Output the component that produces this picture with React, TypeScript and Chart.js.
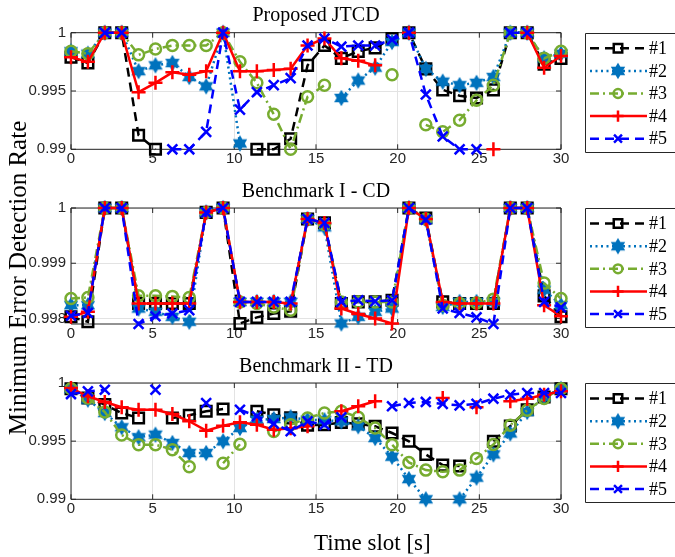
import React, { useEffect, useRef } from 'react';
import { Chart, registerables } from 'chart.js';
import { drawPoint } from 'chart.js/helpers';

Chart.register(...registerables);

// ---------- data ----------
const TIME_SLOTS = [0, 1.0345, 2.069, 3.1034, 4.1379, 5.1724, 6.2069, 7.2414, 8.2759, 9.3103, 10.3448, 11.3793, 12.4138, 13.4483, 14.4828, 15.5172, 16.5517, 17.5862, 18.6207, 19.6552, 20.6897, 21.7241, 22.7586, 23.7931, 24.8276, 25.8621, 26.8966, 27.931, 28.9655, 30];
const SERIES_LABELS = ['#1', '#2', '#3', '#4', '#5'];
const X_TICKS = [0, 5, 10, 15, 20, 25, 30];

const PANEL_TITLES = ['Proposed JTCD', 'Benchmark I - CD', 'Benchmark II - TD'];
const Y_TICKS_JTCD = [0.99, 0.995, 1];
const Y_TICKS_CD = [0.998, 0.999, 1];
const Y_TICKS_TD = [0.99, 0.995, 1];
const Y_RANGE_JTCD = [0.99, 1];
const Y_RANGE_CD = [0.9979, 1];
const Y_RANGE_TD = [0.99, 1];

// Proposed JTCD
const JTCD_1 = [0.9979, 0.9974, 1, 1, 0.9912, 0.99, null, null, null, null, null, 0.99, 0.99, 0.9909, 0.9972, 0.9989, 0.9978, 0.9984, 0.9987, 0.9995, 1, 0.9969, 0.9951, 0.9946, 0.9944, 0.9951, 1, 1, 0.9973, 0.9978];
const JTCD_2 = [0.9984, 0.9982, 1, 1, 0.9967, 0.9972, 0.9974, 0.9962, 0.9954, 1, 0.9905, null, null, null, null, null, 0.9944, 0.9959, 0.9970, 0.9992, 1, 0.9969, 0.9958, 0.9955, 0.9957, 0.9962, 1, 1, 0.9978, 0.9982];
const JTCD_3 = [0.9984, 0.9982, 1, 1, 0.9981, 0.9986, 0.9989, 0.9989, 0.9989, 1, 0.9975, 0.9957, 0.9930, 0.99, 0.9945, 0.9955, null, null, null, 0.9964, null, 0.9921, 0.9915, 0.9925, 0.9942, 0.9955, 1, 1, 0.9978, 0.9984];
const JTCD_4 = [0.9979, 0.9975, 1, 1, 0.9949, 0.9957, 0.9966, 0.9964, 0.9967, 1, 0.9967, 0.9967, 0.9968, 0.9969, 0.9989, 0.9995, 0.9978, 0.9976, 0.9972, null, 1, null, null, null, null, 0.99, null, 1, 0.9970, 0.9980];
const JTCD_5 = [null, null, 1, 1, null, null, 0.99, 0.99, 0.9915, 1, 0.9934, 0.9949, 0.9955, 0.9961, 0.9989, 0.9995, 0.9988, 0.9989, 0.9989, 0.9994, 1, 0.9947, 0.9911, 0.99, 0.99, null, 1, 1, null, null];

// Benchmark I - CD
const CD_1 = [0.99803, 0.99794, 1, 1, 0.99827, 0.99827, 0.99827, 0.99827, 0.99992, 1, 0.99791, 0.99802, 0.99809, 0.99813, 0.9998, 0.99973, 0.99827, 0.9983, 0.9983, 0.99833, 1, 0.99982, 0.9983, 0.99827, 0.99827, 0.99827, 1, 1, 0.99841, 0.99803];
const CD_2 = [0.99824, 0.99824, 1, 1, 0.99818, 0.99812, 0.99803, 0.99794, 0.99992, 1, 0.9983, 0.9983, 0.9983, 0.9983, 0.9998, 0.99965, 0.99791, 0.99803, 0.99812, 0.99818, 1, 0.99979, 0.99821, 0.9983, 0.9983, 0.9983, 1, 1, 0.99852, 0.99824];
const CD_3 = [0.99836, 0.99838, 1, 1, 0.99841, 0.99841, 0.9984, 0.99838, 0.99992, 1, 0.9983, 0.99827, 0.99821, 0.99815, 0.9998, 0.9997, 0.9983, 0.9983, 0.9983, 0.9983, 1, 0.9998, 0.99824, 0.99827, 0.99828, 0.99835, 1, 1, 0.99864, 0.99836];
const CD_4 = [0.99803, 0.99812, 1, 1, 0.99827, 0.99827, 0.99827, 0.99827, 0.99992, 1, 0.9983, 0.9983, 0.9983, 0.99827, 0.9998, 0.99973, 0.99818, 0.99808, 0.998, 0.99791, 1, 0.9998, 0.9983, 0.99827, 0.99827, 0.99827, 1, 1, 0.99824, 0.99804];
const CD_5 = [0.99805, 0.9981, 1, 1, 0.9979, 0.99804, 0.99809, 0.99815, 0.99992, 1, 0.9983, 0.9983, 0.9983, 0.9983, 0.9998, 0.99973, 0.9983, 0.99833, 0.99831, 0.99833, 1, 0.99979, 0.99818, 0.9981, 0.99802, 0.9979, 1, 1, 0.9983, 0.9982];

// Benchmark II - TD
const TD_1 = [0.9995, 0.99871, 0.99814, 0.99742, 0.99699, null, 0.99699, 0.99722, 0.99757, 0.99776, null, 0.99757, 0.99727, 0.9970, 0.99637, 0.99641, 0.9966, 0.9965, 0.99628, 0.9957, 0.99499, 0.99386, 0.99294, 0.99286, null, 0.99499, 0.9963, 0.9977, 0.9988, 0.9995];
const TD_2 = [0.9995, 0.99857, 0.99742, 0.99619, 0.99533, 0.99556, 0.99484, 0.99398, 0.99398, 0.99499, 0.99613, 0.99684, 0.9969, 0.99705, 0.99684, 0.9968, 0.9967, 0.99628, 0.99527, 0.99366, 0.99174, 0.99, null, 0.99, 0.99186, 0.99386, 0.99566, 0.99751, 0.9988, 0.9995];
const TD_3 = [0.9995, 0.99871, 0.9975, 0.99553, 0.9947, 0.9947, 0.99427, 0.9928, null, 0.9931, 0.99473, null, 0.99583, 0.99641, 0.99699, 0.99742, 0.99757, 0.99705, 0.99613, 0.9947, 0.99317, 0.99251, 0.99237, 0.99251, 0.99351, 0.99471, 0.99637, 0.99766, 0.99866, 0.9995];
const TD_4 = [0.99957, 0.99886, 0.99837, 0.99791, 0.9977, 0.9977, 0.99733, 0.99671, 0.9959, 0.99633, 0.99662, 0.99641, 0.99598, 0.9961, 0.99628, null, 0.99757, 0.998, 0.99843, null, null, null, 0.99871, null, 0.99791, null, 0.99843, 0.99865, 0.99899, 0.99928];
const TD_5 = [0.99905, 0.99928, 0.99942, null, null, 0.99942, null, null, 0.99828, null, 0.9977, 0.99714, 0.9965, 0.99585, 0.9967, 0.99641, 0.99705, null, null, 0.998, 0.99828, 0.99837, 0.9982, 0.99808, 0.9982, 0.99865, 0.99899, 0.99914, 0.99914, 0.99914];

// ---------- layout / style ----------
const W = 675;
const H = 557;
const PLOT_LEFT = 71;
const PLOT_RIGHT = 561;
const PANEL_BOUNDS = [
  { top: 32.7, bottom: 149.3 },
  { top: 208, bottom: 324 },
  { top: 383, bottom: 499.3 },
];
const AXIS_COLOR = '#262626';
const GRID_COLOR = '#e3e3e3';
const TICK_FONT = { family: '"Liberation Sans", Arial, sans-serif', size: 15 };
const SERIF = '"Liberation Serif", "Times New Roman", serif';
const TITLE_SIZE = 20;

function makeHexagram(color: string) {
  const c = document.createElement('canvas');
  c.width = 18;
  c.height = 18;
  const g = c.getContext('2d')!;
  const R = 8.3;
  const r = R / Math.sqrt(3);
  g.beginPath();
  for (let k = 0; k < 12; k++) {
    const a = -Math.PI / 2 + (k * Math.PI) / 6;
    const rr = k % 2 === 0 ? R : r;
    const px = 9 + rr * Math.cos(a);
    const py = 9 + rr * Math.sin(a);
    if (k === 0) g.moveTo(px, py);
    else g.lineTo(px, py);
  }
  g.closePath();
  g.fillStyle = color;
  g.fill();
  return c;
}

const framePlugin = {
  id: 'matlabFrame',
  beforeDatasetsDraw(chart: any) {
    const { ctx, chartArea, scales } = chart;
    const { left, right, top, bottom } = chartArea;
    ctx.save();
    ctx.strokeStyle = AXIS_COLOR;
    ctx.lineWidth = 1;
    ctx.setLineDash([]);
    ctx.beginPath();
    ctx.rect(left, top, right - left, bottom - top);
    ctx.stroke();
    const tl = 5;
    ctx.beginPath();
    scales.x.ticks.forEach((t: any) => {
      const px = scales.x.getPixelForValue(t.value);
      ctx.moveTo(px, bottom);
      ctx.lineTo(px, bottom - tl);
      ctx.moveTo(px, top);
      ctx.lineTo(px, top + tl);
    });
    scales.y.ticks.forEach((t: any) => {
      const py = scales.y.getPixelForValue(t.value);
      ctx.moveTo(left, py);
      ctx.lineTo(left + tl, py);
      ctx.moveTo(right, py);
      ctx.lineTo(right - tl, py);
    });
    ctx.stroke();
    ctx.restore();
  },
};

const boxLegendPlugin = {
  id: 'boxLegend',
  afterDraw(chart: any) {
    const { ctx, chartArea } = chart;
    const top = chartArea.top;
    ctx.save();
    ctx.setLineDash([]);
    ctx.fillStyle = '#ffffff';
    ctx.strokeStyle = AXIS_COLOR;
    ctx.lineWidth = 1;
    ctx.beginPath();
    ctx.rect(585.5, Math.round(top) + 0.5, 110, 119);
    ctx.fill();
    ctx.stroke();
    chart.data.datasets.forEach((ds: any, i: number) => {
      const y = top + 15.6 + i * 22.6;
      ctx.strokeStyle = ds.borderColor;
      ctx.lineWidth = ds.borderWidth;
      ctx.setLineDash(ds.borderDash || []);
      ctx.beginPath();
      ctx.moveTo(590, y);
      ctx.lineTo(647, y);
      ctx.stroke();
      ctx.setLineDash([]);
      ctx.fillStyle = ds.pointBackgroundColor;
      ctx.strokeStyle = ds.pointBorderColor;
      ctx.lineWidth = ds.pointBorderWidth;
      drawPoint(ctx, { pointStyle: ds.pointStyle, radius: ds.pointRadius * 0.8, borderWidth: ds.pointBorderWidth, rotation: 0 } as any, 618, y);
      ctx.fillStyle = '#000000';
      ctx.font = `18px ${SERIF}`;
      ctx.textAlign = 'left';
      ctx.textBaseline = 'middle';
      ctx.fillText(ds.label, 649, y + 1);
    });
    ctx.restore();
  },
};

const figureLabelPlugin = {
  id: 'figureLabels',
  afterDraw(chart: any, _args: any, opts: any) {
    const { ctx } = chart;
    ctx.save();
    ctx.fillStyle = '#000000';
    if (opts.xLabel) {
      ctx.font = `23px ${SERIF}`;
      ctx.textAlign = 'left';
      ctx.textBaseline = 'middle';
      ctx.fillText(opts.xLabel, 314, 544);
    }
    if (opts.yLabel) {
      ctx.font = `25px ${SERIF}`;
      ctx.translate(19, 278);
      ctx.rotate(-Math.PI / 2);
      ctx.textAlign = 'center';
      ctx.textBaseline = 'middle';
      ctx.fillText(opts.yLabel, 0, 0);
    }
    ctx.restore();
  },
};

function fmtTick(v: number) {
  return v === 1 ? '1' : String(v);
}

export default function App() {
  const refs = [useRef<HTMLCanvasElement>(null), useRef<HTMLCanvasElement>(null), useRef<HTMLCanvasElement>(null)];

  useEffect(() => {
    const hex = makeHexagram('#0072BD');
    const STYLES = [
      { color: '#000000', dash: [9, 6], point: 'rect', radius: 7.5, fill: 'rgba(0,0,0,0)' },
      { color: '#0072BD', dash: [2, 3.5], point: hex, radius: 8, fill: '#0072BD' },
      { color: '#77AC30', dash: [9, 4, 2, 4], point: 'circle', radius: 5.5, fill: 'rgba(0,0,0,0)' },
      { color: '#FF0000', dash: [], point: 'cross', radius: 7, fill: 'rgba(0,0,0,0)' },
      { color: '#0000FF', dash: [9, 6], point: 'crossRot', radius: 7, fill: 'rgba(0,0,0,0)' },
    ];
    const panels = [
      { series: [JTCD_1, JTCD_2, JTCD_3, JTCD_4, JTCD_5], range: Y_RANGE_JTCD, ticks: Y_TICKS_JTCD },
      { series: [CD_1, CD_2, CD_3, CD_4, CD_5], range: Y_RANGE_CD, ticks: Y_TICKS_CD },
      { series: [TD_1, TD_2, TD_3, TD_4, TD_5], range: Y_RANGE_TD, ticks: Y_TICKS_TD },
    ];
    const titleBlock = TITLE_SIZE * 1.2 + 4.5;
    const charts = panels.map((p, k) => {
      const b = PANEL_BOUNDS[k];
      const datasets = p.series.map((vals, i) => {
        const st = STYLES[i];
        return {
          label: SERIES_LABELS[i],
          data: vals.map((v, j) => ({ x: TIME_SLOTS[j], y: v })),
          borderColor: st.color,
          backgroundColor: st.color,
          borderWidth: 2.5,
          borderDash: st.dash,
          pointStyle: st.point,
          pointRadius: st.radius,
          pointBorderWidth: 2.5,
          pointBorderColor: st.color,
          pointBackgroundColor: st.fill,
          fill: false,
          tension: 0,
          spanGaps: false,
          clip: false,
          order: 4 - i,
        };
      });
      return new Chart(refs[k].current!, {
        type: 'line',
        data: { datasets } as any,
        options: {
          responsive: false,
          animation: false,
          devicePixelRatio: 1,
          events: [],
          layout: { padding: { left: 0, right: W - PLOT_RIGHT, top: b.top - titleBlock, bottom: H - b.bottom - 30 } },
          plugins: {
            legend: { display: false },
            tooltip: { enabled: false },
            title: {
              display: true,
              text: PANEL_TITLES[k],
              fullSize: false,
              color: '#000000',
              padding: { top: 0, bottom: 4.5 },
              font: { family: SERIF, size: TITLE_SIZE, weight: 'normal' },
            },
            figureLabels: k === 2 ? { xLabel: 'Time slot [s]' } : k === 1 ? { yLabel: 'Minimum Error Detection Rate' } : {},
          } as any,
          scales: {
            x: {
              type: 'linear',
              min: 0,
              max: 30,
              afterBuildTicks: (s: any) => { s.ticks = X_TICKS.map((v) => ({ value: v })); },
              afterFit: (s: any) => { s.height = 30; },
              grid: { color: GRID_COLOR, drawTicks: false },
              border: { display: false },
              ticks: { padding: 1, font: TICK_FONT, color: AXIS_COLOR, maxRotation: 0, autoSkip: false },
            },
            y: {
              type: 'linear',
              min: p.range[0],
              max: p.range[1],
              afterBuildTicks: (s: any) => { s.ticks = p.ticks.map((v) => ({ value: v })); },
              afterFit: (s: any) => { s.width = PLOT_LEFT; },
              grid: { color: GRID_COLOR, drawTicks: false },
              border: { display: false },
              ticks: { padding: 5, font: TICK_FONT, color: AXIS_COLOR, autoSkip: false, callback: (v: any) => fmtTick(Number(v)) },
            },
          } as any,
        },
        plugins: [framePlugin, boxLegendPlugin, figureLabelPlugin],
      });
    });
    return () => charts.forEach((c) => c.destroy());
  }, []);

  const cstyle: React.CSSProperties = { position: 'absolute', left: 0, top: 0, width: W, height: H };
  return (
    <div style={{ position: 'absolute', left: 0, top: 0, width: W, height: H, background: '#ffffff' }}>
      {refs.map((r, k) => (
        <canvas key={k} ref={r} width={W} height={H} style={cstyle} />
      ))}
    </div>
  );
}
